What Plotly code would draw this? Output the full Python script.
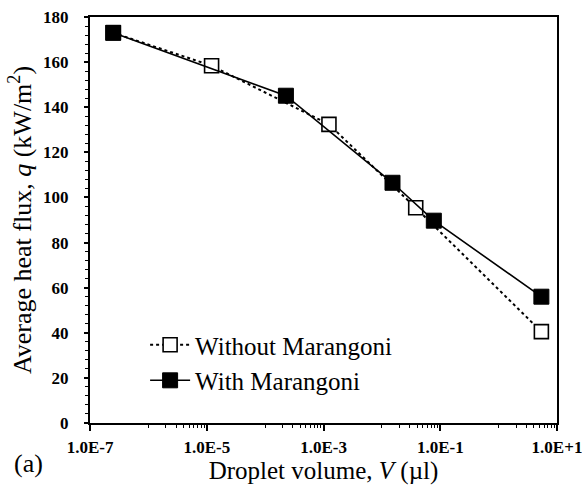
import plotly.graph_objects as go

# Droplet volume (µl) and average heat flux (kW/m²)
vol_without = [2.5e-7, 1.21e-5, 1.24e-3, 0.038, 5.4]
q_without = [173.0, 158.4, 132.4, 95.4, 40.5]
vol_with = [2.5e-7, 2.27e-4, 0.0152, 0.0776, 5.4]
q_with = [173.0, 145.1, 106.5, 89.7, 56.0]

x_major = [1e-7, 1e-5, 1e-3, 1e-1, 1e1]
x_labels = ["1.0E-7", "1.0E-5", "1.0E-3", "1.0E-1", "1.0E+1"]
x_minor = [k * 10.0 ** e for e in (-6, -4, -2, 0) for k in range(1, 10)]
y_major = list(range(0, 181, 20))
y_minor = [v for v in range(0, 181, 4) if v % 20]

SERIF = "Liberation Serif"
tickfont = dict(family=SERIF, size=17, color="black", weight="bold")

fig = go.Figure()
fig.add_trace(go.Scatter(
    x=vol_without, y=q_without, name="Without Marangoni",
    legendgroup="without",
    mode="lines+markers",
    line=dict(color="black", width=2, dash="dot"),
    marker=dict(symbol="square", size=14, color="white",
                line=dict(color="black", width=1.6)),
))
fig.add_trace(go.Scatter(
    x=vol_with, y=q_with, name="With Marangoni",
    legendgroup="with",
    mode="lines+markers",
    line=dict(color="black", width=1.6),
    marker=dict(symbol="square", size=15, color="black",
                line=dict(color="black", width=1)),
))

common_x = dict(type="log", range=[-7, 1], tickvals=x_major, showgrid=False,
                zeroline=False, tickcolor="black", tickwidth=1.5)
common_y = dict(range=[0, 180], tickvals=y_major, showgrid=False,
                zeroline=False, tickcolor="black", tickwidth=1.5)

fig.update_layout(
    width=582, height=486,
    margin=dict(l=90, r=25, t=17, b=63),
    plot_bgcolor="white", paper_bgcolor="white",
    font=dict(family=SERIF, color="black"),
    showlegend=True,
    legend=dict(x=0.118, y=0.2486, xanchor="left", yanchor="top",
                bgcolor="rgba(0,0,0,0)", font=dict(family=SERIF, size=25),
                itemwidth=40, tracegroupgap=12, traceorder="normal"),
    xaxis=dict(**common_x, ticktext=x_labels, tickfont=tickfont,
               ticks="outside", ticklen=6, ticklabelstandoff=2,
               ticklabeloverflow="allow", automargin=False,
               minor=dict(tickvals=x_minor, ticks="outside", ticklen=3,
                          tickcolor="black", tickwidth=1),
               showline=True, linecolor="black", linewidth=2, mirror=True,
               title=dict(text="Droplet volume, <i>V</i> (µl)",
                          font=dict(family=SERIF, size=25), standoff=4)),
    yaxis=dict(**common_y, tickfont=tickfont, ticks="outside", ticklen=4,
               minor=dict(tickvals=y_minor, ticks="outside", ticklen=3,
                          tickcolor="black", tickwidth=1),
               ticklabelstandoff=12, automargin=False,
               showline=True, linecolor="black", linewidth=2, mirror=True,
               title=dict(text="Average heat flux, <i>q</i> (kW/m<sup>2</sup>)",
                          font=dict(family=SERIF, size=26), standoff=4)),
    xaxis2=dict(**common_x, overlaying="x", anchor="y2", side="bottom",
                showticklabels=False, ticks="inside", ticklen=6,
                minor=dict(tickvals=x_minor, ticks="inside", ticklen=3,
                           tickcolor="black", tickwidth=1),
                showline=False),
    yaxis2=dict(**common_y, overlaying="y", anchor="x2", side="left",
                showticklabels=False, ticks="inside", ticklen=7,
                minor=dict(tickvals=y_minor, ticks="inside", ticklen=3,
                           tickcolor="black", tickwidth=1),
                showline=False),
    annotations=[dict(text="(a)", xref="paper", yref="paper", x=-0.166, y=-0.099,
                      xanchor="left", yanchor="middle", showarrow=False,
                      font=dict(family=SERIF, size=26))],
)

fig.write_html("out.html")
